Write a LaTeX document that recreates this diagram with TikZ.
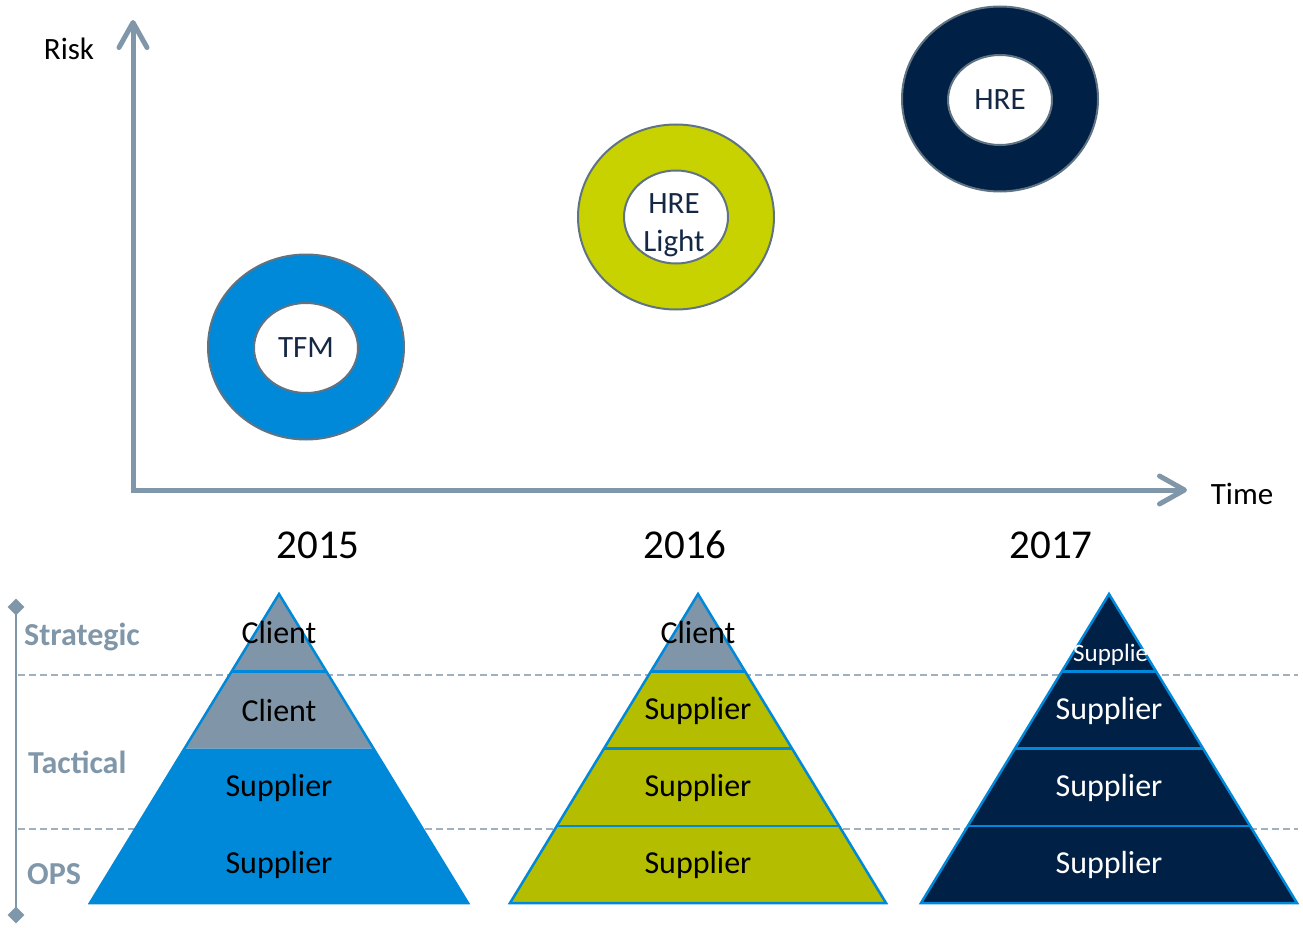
\documentclass[tikz,border=0pt]{standalone}
\usepackage{fontspec}
\setmainfont{Carlito}
\usetikzlibrary{shapes.geometric,arrows.meta,calc}
\definecolor{axisgray}{RGB}{128,151,169}
\definecolor{ringedge}{RGB}{95,115,131}
\definecolor{tfmblue}{RGB}{0,137,217}
\definecolor{lime}{RGB}{200,210,0}
\definecolor{olive}{RGB}{180,189,0}
\definecolor{navy}{RGB}{0,32,69}
\definecolor{pgray}{RGB}{128,150,168}
\definecolor{dashgray}{RGB}{160,176,190}
\definecolor{innertext}{RGB}{20,40,70}
\newcommand\pyrlayer[6]{\fill[#6] ($(#1)!#4!(#2)$) -- ($(#1)!#5!(#2)$) -- ($(#1)!#5!(#3)$) -- ($(#1)!#4!(#3)$) -- cycle;}
\newcommand\pyrline[4]{\draw[pline] ($(#1)!#4!(#2)$) -- ($(#1)!#4!(#3)$);}
\begin{document}
\begin{tikzpicture}[x=1pt,y=-1pt,
  txt/.style={font=\fontsize{32}{38}\selectfont, inner sep=0},
  yeartxt/.style={font=\fontsize{41}{48}\selectfont, inner sep=0},
  sidetxt/.style={font=\fontsize{32}{38}\selectfont\bfseries, text=axisgray, inner sep=0, anchor=west},
  axis/.style={draw=axisgray, line width=5pt, -{Straight Barb[length=25pt,width=28pt,round]}},
  outer/.style={ellipse, draw=ringedge, line width=2pt, minimum width=196pt, minimum height=185pt, inner sep=0},
  inner/.style={ellipse, draw=ringedge, line width=2pt, fill=white, minimum width=104pt, minimum height=90pt, inner sep=0, text=innertext, font=\fontsize{31}{38}\selectfont, align=center},
  pline/.style={draw=tfmblue, line width=2.5pt},
  pedge/.style={draw=tfmblue, line width=2.5pt, line join=miter},
  guide/.style={draw=dashgray, line width=1.3pt, dash pattern=on 7pt off 4pt},
  ptxt/.style={txt, text=black},
  wtxt/.style={txt, text=white},
  mark diamond/.style={diamond, fill=axisgray, minimum width=17pt, minimum height=17pt, inner sep=0}
]
\useasboundingbox (0,0) rectangle (1303,928);

% axes
\coordinate (origin) at (133,490);
\coordinate (ytip) at (133,20);
\coordinate (xtip) at (1187,490);
\draw[axis] (origin) -- (ytip);
\draw[axis] ([xshift=-2.5pt]origin) -- (xtip);
\node[txt, font=\fontsize{31}{37}\selectfont] (risk) at (69,49) {Risk};
\node[txt, font=\fontsize{31}{37}\selectfont] (time) at (1242,494) {Time};

% rings
\node[outer, fill=tfmblue] (r1) at (306,347) {};
\node[inner] (i1) at (306,348) {TFM};
\node[outer, fill=lime] (r2) at (676,217) {};
\node[inner, minimum height=93pt] (i2) at (676,217) {};
\node[text=innertext, font=\fontsize{31}{38}\selectfont, align=center, inner sep=0] (i2t) at (674,225) {HRE\\Light};
\node[outer, fill=navy] (r3) at (1000,99) {};
\node[inner] (i3) at (1000,100) {HRE};

% years
\node[yeartxt] (y1) at (318,545) {2015};
\node[yeartxt] (y2) at (685,545) {2016};
\node[yeartxt] (y3) at (1051,545) {2017};

% side scale
\coordinate (st) at (16,607);
\coordinate (sb) at (16,915);
\draw[axisgray, line width=2pt] (st) -- (sb);
\node[mark diamond] (dt) at (st) {};
\node[mark diamond] (db) at (sb) {};
\node[sidetxt] (strat) at (24,637) {Strategic};
\node[sidetxt] (tact) at (28,762) {Tactical};
\node[sidetxt] (ops) at (27,874) {OPS};

% guides
\coordinate (g1a) at (18,675); \coordinate (g1b) at (1298,675);
\coordinate (g2a) at (18,829); \coordinate (g2b) at (1298,829);
\draw[guide] (g1a) -- (g1b);
\draw[guide] (g2a) -- (g2b);

% pyramid 1
\coordinate (A1) at (279,594); \coordinate (L1) at (90,903); \coordinate (R1) at (468,903);
\pyrlayer{A1}{L1}{R1}{0}{0.5}{pgray}
\pyrlayer{A1}{L1}{R1}{0.5}{1}{tfmblue}
\pyrline{A1}{L1}{R1}{0.25}
\draw[pedge] (A1) -- (L1) -- (R1) -- cycle;
\node[ptxt] (p1a) at (279,633) {Client};
\node[ptxt] (p1b) at (279,711) {Client};
\node[ptxt] (p1c) at (279,788) {Supplier};
\node[ptxt] (p1d) at (279,865) {Supplier};

% pyramid 2
\coordinate (A2) at (698,594); \coordinate (L2) at (510,903); \coordinate (R2) at (886,903);
\pyrlayer{A2}{L2}{R2}{0}{0.25}{pgray}
\pyrlayer{A2}{L2}{R2}{0.25}{1}{olive}
\pyrline{A2}{L2}{R2}{0.25}
\pyrline{A2}{L2}{R2}{0.5}
\pyrline{A2}{L2}{R2}{0.75}
\draw[pedge] (A2) -- (L2) -- (R2) -- cycle;
\node[ptxt] (p2a) at (698,633) {Client};
\node[ptxt] (p2b) at (698,711) {Supplier};
\node[ptxt] (p2c) at (698,788) {Supplier};
\node[ptxt] (p2d) at (698,865) {Supplier};

% pyramid 3
\coordinate (A3) at (1109,594); \coordinate (L3) at (921,903); \coordinate (R3) at (1297,903);
\pyrlayer{A3}{L3}{R3}{0}{1}{navy}
\pyrline{A3}{L3}{R3}{0.25}
\pyrline{A3}{L3}{R3}{0.5}
\pyrline{A3}{L3}{R3}{0.75}
\draw[pedge] (A3) -- (L3) -- (R3) -- cycle;
\node[wtxt, font=\fontsize{25}{30}\selectfont, anchor=west] (p3a) at (1073,655) {Supplie};
\node[wtxt] (p3b) at (1109,711) {Supplier};
\node[wtxt] (p3c) at (1109,788) {Supplier};
\node[wtxt] (p3d) at (1109,865) {Supplier};
\end{tikzpicture}
\end{document}
